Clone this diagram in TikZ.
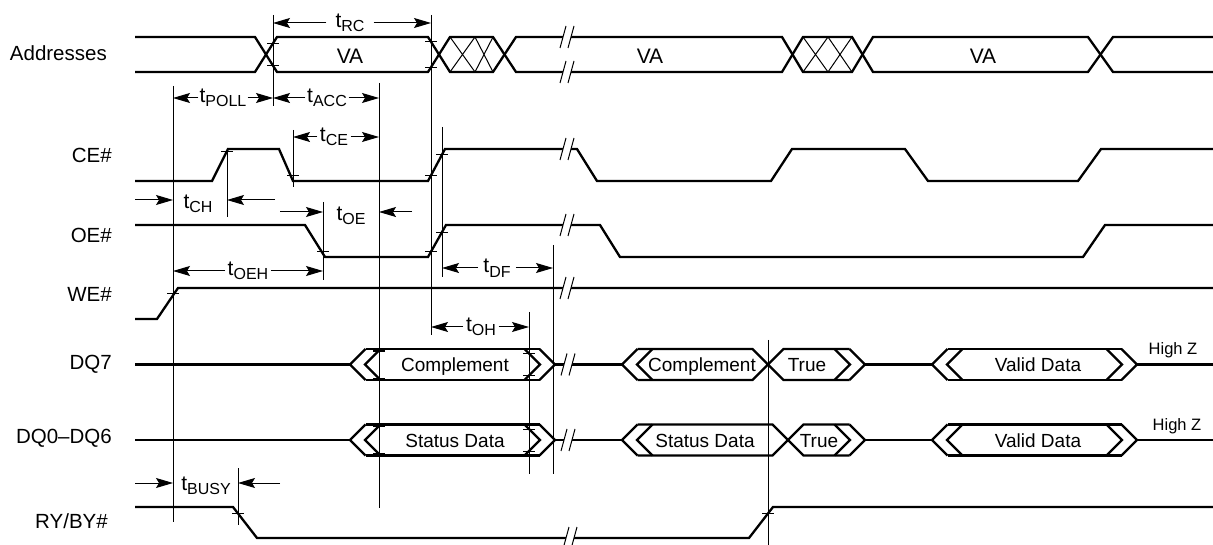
\documentclass[tikz,border=0pt]{standalone}
\usepackage{fontspec}
\setmainfont{Liberation Sans}
\usetikzlibrary{arrows.meta}
\newcommand\tsub[1]{t\raisebox{-4.5pt}{\fontsize{16}{16}\selectfont #1}}
\newcommand\brk[2]{%
 \fill[white] ({#1-3},{#2+11}) -- ({#1+3},{#2-11}) -- ({#1+11},{#2-11}) -- ({#1+5},{#2+11}) -- cycle;
 \draw[thin1] ({#1-3},{#2+11}) -- ({#1+3},{#2-11}) ({#1+5},{#2+11}) -- ({#1+11},{#2-11});}
\newcommand\tck[2]{\draw[thin1] ({#1-6},{#2}) -- ({#1+6},{#2});}
\newcommand\dcl[2]{%
 \draw[sig] ({#1+15.5},{#2-15.5}) -- (#1,#2) -- ({#1+15.5},{#2+15.5});
 \draw[sig] ({#1+30.5},{#2-15.5}) -- ({#1+15},#2) -- ({#1+30.5},{#2+15.5});}
\newcommand\dcr[2]{%
 \draw[sig] ({#1-15.5},{#2-15.5}) -- (#1,#2) -- ({#1-15.5},{#2+15.5});
 \draw[sig] ({#1-30.5},{#2-15.5}) -- ({#1-15},#2) -- ({#1-30.5},{#2+15.5});}
\begin{document}
\begin{tikzpicture}[x=1pt,y=-1pt,
  sig/.style={line width=2.3pt},
  thin1/.style={line width=1pt},
  dimarr/.style={line width=1pt,-{Stealth[length=17pt,width=10pt,inset=3pt]}},
  rowlab/.style={anchor=base east,inner sep=0pt,font=\fontsize{20.5}{24}\selectfont},
  boxtxt/.style={anchor=base,inner sep=0pt,font=\fontsize{19}{22}\selectfont},
  hiz/.style={anchor=base,inner sep=0pt,font=\fontsize{16.5}{19}\selectfont},
  tlab/.style={inner xsep=2.5pt,inner ysep=1pt,font=\fontsize{21}{24}\selectfont}]
\useasboundingbox (0,0) rectangle (1213,545);
\fill[white] (0,0) rectangle (1213,545);

% reference coordinates of vertical lines
\coordinate (x173) at (173,0);
\coordinate (x227) at (227,0);
\coordinate (x238) at (238,0);
\coordinate (x273) at (273,0);
\coordinate (x293) at (293,0);
\coordinate (x323) at (323,0);
\coordinate (x379) at (379,0);
\coordinate (x431) at (431,0);
\coordinate (x442) at (442,0);
\coordinate (x529) at (529,0);
\coordinate (x553) at (553,0);

% row labels
\node[rowlab] (lAddr) at (107,61) {Addresses};
\node[rowlab] (lCE) at (112,163) {CE\#};
\node[rowlab] (lOE) at (112,243) {OE\#};
\node[rowlab] (lWE) at (112,302) {WE\#};
\node[rowlab] (lDQ7) at (112,369) {DQ7};
\node[rowlab] (lDQ0) at (112,443) {DQ0--DQ6};
\node[rowlab] (lRY) at (108,528) {RY/BY\#};

% vertical reference lines
\draw[thin1] (173,86) -- (173,522);
\draw[thin1] (227,148) -- (227,217);
\draw[thin1] (273,15) -- (273,106);
\draw[thin1] (293,130) -- (293,187);
\draw[thin1] (323,202) -- (323,280);
\draw[thin1] (379,83) -- (379,508);
\draw[thin1] (431,15) -- (431,335);
\draw[thin1] (442,127) -- (442,277);
\draw[thin1] (529,312) -- (529,474);
\draw[thin1] (553,245) -- (553,474);
\draw[thin1] (238,468) -- (238,525);
\draw[thin1] (768,340) -- (768,545);

% Addresses
\draw[sig] (135,37) -- (255,37) -- (277,72) -- (428,72) -- (450,37) -- (493,37) -- (516,72) -- (782,72) -- (803,37) -- (852,37) -- (873,72) -- (1088,72) -- (1113,37) -- (1213,37);
\draw[sig] (135,72) -- (255,72) -- (277,37) -- (428,37) -- (450,72) -- (493,72) -- (516,37) -- (782,37) -- (803,72) -- (852,72) -- (873,37) -- (1088,37) -- (1113,72) -- (1213,72);
\draw[thin1] (450,37) -- (475,72) (475,37) -- (450,72) (475,37) -- (493,72) (493,37) -- (475,72);
\draw[thin1] (803,37) -- (828,72) (828,37) -- (803,72) (828,37) -- (852,72) (852,37) -- (828,72);
\brk{563}{37} \brk{563}{72}
\tck{273}{43.4} \tck{273}{65.6} \tck{431}{41.8} \tck{431}{67.2}
\node[boxtxt,font=\fontsize{21}{24}\selectfont] (va1) at (350,63.5) {VA};
\node[boxtxt,font=\fontsize{21}{24}\selectfont] (va2) at (650,63.5) {VA};
\node[boxtxt,font=\fontsize{21}{24}\selectfont] (va3) at (983,63.5) {VA};

% CE#
\draw[sig] (135,181) -- (212,181) -- (228,149) -- (279,149) -- (293,181) -- (428,181) -- (445,149) -- (577,149) -- (597,181) -- (771,181) -- (792,149) -- (905,149) -- (928,181) -- (1078,181) -- (1101,149) -- (1213,149);
\brk{563}{149}
\tck{227}{152} \tck{293}{176} \tck{431}{175.4} \tck{442}{154.3}

% OE#
\draw[sig] (135,225) -- (305,225) -- (325,257) -- (428,257) -- (446,225) -- (600,225) -- (620,257) -- (1083,257) -- (1105,225) -- (1213,225);
\brk{563}{225}
\tck{323}{252} \tck{431}{251.7} \tck{442}{232.1}

% WE#
\draw[sig] (135,319) -- (157,319) -- (178,288) -- (1213,288);
\brk{563}{288}
\tck{173}{294}

% DQ7
\draw[sig] (135,364.5) -- (350,364.5);
\dcl{350}{364.5}
\draw[sig] (365.5,349) -- (539.5,349) (365.5,380) -- (539.5,380);
\dcr{555}{364.5}
\draw[sig] (555,364.5) -- (622,364.5);
\dcl{622}{364.5}
\draw[sig] (637.5,349) -- (752.5,349) -- (768,364.5) -- (752.5,380) -- (637.5,380);
\draw[sig] (849.5,349) -- (783.5,349) -- (768,364.5) -- (783.5,380) -- (849.5,380);
\dcr{865}{364.5}
\draw[sig] (865,364.5) -- (932,364.5);
\dcl{932}{364.5}
\draw[sig] (947.5,349) -- (1121.5,349) (947.5,380) -- (1121.5,380);
\dcr{1137}{364.5}
\draw[sig] (1137,364.5) -- (1213,364.5);
\brk{564}{364.5}
\tck{379}{351} \tck{379}{378} \tck{529}{353.5} \tck{529}{375.5}
\node[boxtxt] (c1) at (455,371.5) {Complement};
\node[boxtxt] (c2) at (702,371.5) {Complement};
\node[boxtxt] (tr1) at (807,371.5) {True};
\node[boxtxt] (vd1) at (1038,371.5) {Valid Data};
\node[hiz] (hz1) at (1173,354) {High Z};

% DQ0-DQ6
\draw[sig] (135,440) -- (350,440);
\dcl{350}{440}
\draw[sig] (365.5,424.5) -- (539.5,424.5) (365.5,455.5) -- (539.5,455.5);
\dcr{555}{440}
\draw[sig] (555,440) -- (622,440);
\dcl{622}{440}
\draw[sig] (637.5,424.5) -- (772.5,424.5) -- (788,440) -- (772.5,455.5) -- (637.5,455.5);
\draw[sig] (849.5,424.5) -- (803.5,424.5) -- (788,440) -- (803.5,455.5) -- (849.5,455.5);
\dcr{865}{440}
\draw[sig] (865,440) -- (932,440);
\dcl{932}{440}
\draw[sig] (947.5,424.5) -- (1121.5,424.5) (947.5,455.5) -- (1121.5,455.5);
\dcr{1137}{440}
\draw[sig] (1137,440) -- (1213,440);
\brk{564}{440}
\tck{379}{426.5} \tck{379}{453.5} \tck{529}{429} \tck{529}{451}
\node[boxtxt] (s1) at (455,447) {Status Data};
\node[boxtxt] (s2) at (705,447) {Status Data};
\node[boxtxt] (tr2) at (819,447) {True};
\node[boxtxt] (vd2) at (1038,447) {Valid Data};
\node[hiz] (hz2) at (1177,430) {High Z};

% RY/BY#
\draw[sig] (135,507) -- (233,507) -- (257,538) -- (749,538) -- (773,507) -- (1213,507);
\brk{566}{538}
\tck{238}{513.5} \tck{768}{513.4}

% timing annotations (outward arrows)
\node[tlab,inner xsep=9pt] (tRC) at (350,23) {\tsub{RC}};
\draw[dimarr] (tRC) -- (tRC -| x273);
\draw[dimarr] (tRC) -- (tRC -| x431);
\node[tlab,inner xsep=1pt] (tPOLL) at (223,98) {\tsub{POLL}};
\draw[dimarr] (tPOLL) -- (tPOLL -| x173);
\draw[dimarr] (tPOLL) -- (tPOLL -| x273);
\node[tlab,inner xsep=1.5pt] (tACC) at (327,98) {\tsub{ACC}};
\draw[dimarr] (tACC) -- (tACC -| x273);
\draw[dimarr] (tACC) -- (tACC -| x379);
\node[tlab] (tCE) at (334,137) {\tsub{CE}};
\draw[dimarr] (tCE) -- (tCE -| x293);
\draw[dimarr] (tCE) -- (tCE -| x379);
\node[tlab] (tOEH) at (248,271) {\tsub{OEH}};
\draw[dimarr] (tOEH) -- (tOEH -| x173);
\draw[dimarr] (tOEH) -- (tOEH -| x323);
\node[tlab,inner xsep=5pt] (tDF) at (497,268) {\tsub{DF}};
\draw[dimarr] (tDF) -- (tDF -| x442);
\draw[dimarr] (tDF) -- (tDF -| x553);
\node[tlab] (tOH) at (481,327) {\tsub{OH}};
\draw[dimarr] (tOH) -- (tOH -| x431);
\draw[dimarr] (tOH) -- (tOH -| x529);

% timing annotations (inward arrows)
\node[tlab] (tCH) at (198,204) {\tsub{CH}};
\coordinate (chA) at (135,200);
\coordinate (chB) at (275,200);
\draw[dimarr] (chA) -- (chA -| x173);
\draw[dimarr] (chB) -- (chB -| x227);
\node[tlab] (tOE) at (351,216) {\tsub{OE}};
\coordinate (oeA) at (280,212);
\coordinate (oeB) at (412,212);
\draw[dimarr] (oeA) -- (oeA -| x323);
\draw[dimarr] (oeB) -- (oeB -| x379);
\node[tlab] (tBUSY) at (206,486) {\tsub{BUSY}};
\coordinate (byA) at (135,483);
\coordinate (byB) at (280,483);
\draw[dimarr] (byA) -- (byA -| x173);
\draw[dimarr] (byB) -- (byB -| x238);
\end{tikzpicture}
\end{document}
